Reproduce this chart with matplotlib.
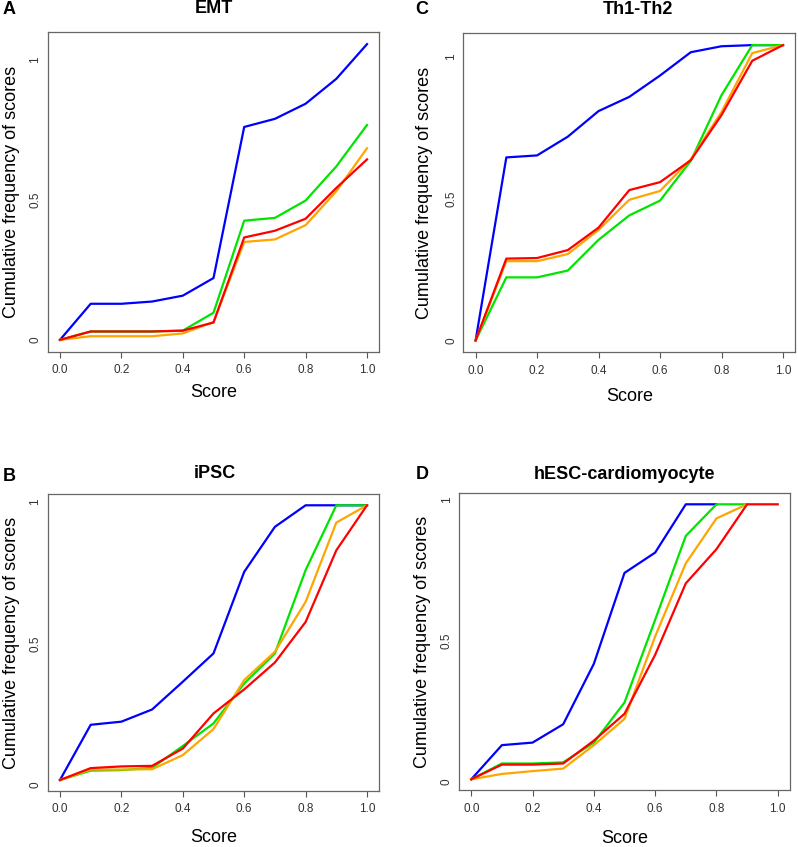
import numpy as np
import matplotlib
matplotlib.use("Agg")
import matplotlib.pyplot as plt

plt.rcParams['font.family'] = ['Liberation Sans', 'DejaVu Sans']

W, H = 798, 847

scores = [0.0, 0.1, 0.2, 0.3, 0.4, 0.5, 0.6, 0.7, 0.8, 0.9, 1.0]
yticks = [0, 0.5, 1]
ytick_labels = ["0", "0.5", "1"]
xticks = [0.0, 0.2, 0.4, 0.6, 0.8, 1.0]
xtick_labels = ["0.0", "0.2", "0.4", "0.6", "0.8", "1.0"]
colors = ["#0000FF", "#00E400", "#FFA500", "#FF0000"]

# A: EMT
emt_blue = [0.0, 0.129, 0.129, 0.137, 0.158, 0.221, 0.761, 0.790, 0.844, 0.933, 1.057]
emt_green = [0.0, 0.030, 0.030, 0.030, 0.033, 0.097, 0.426, 0.436, 0.498, 0.620, 0.768]
emt_orange = [0.0, 0.013, 0.013, 0.013, 0.023, 0.064, 0.350, 0.359, 0.410, 0.531, 0.685]
emt_red = [0.0, 0.030, 0.030, 0.030, 0.033, 0.062, 0.366, 0.390, 0.433, 0.543, 0.645]

# C: Th1-Th2
th_blue = [0.0, 0.644, 0.651, 0.717, 0.807, 0.857, 0.932, 1.014, 1.035, 1.039, 1.039]
th_green = [0.0, 0.222, 0.222, 0.246, 0.354, 0.440, 0.492, 0.632, 0.863, 1.039, 1.039]
th_orange = [0.0, 0.279, 0.279, 0.304, 0.389, 0.495, 0.526, 0.637, 0.804, 1.011, 1.039]
th_red = [0.0, 0.288, 0.290, 0.318, 0.397, 0.529, 0.557, 0.634, 0.793, 0.984, 1.039]

# B: iPSC
ipsc_blue = [0.018, 0.213, 0.224, 0.267, 0.365, 0.465, 0.753, 0.912, 0.988, 0.988, 0.988]
ipsc_green = [0.018, 0.051, 0.053, 0.061, 0.138, 0.218, 0.359, 0.465, 0.759, 0.988, 0.988]
ipsc_orange = [0.018, 0.055, 0.055, 0.056, 0.106, 0.198, 0.371, 0.471, 0.647, 0.927, 0.988]
ipsc_red = [0.018, 0.060, 0.066, 0.068, 0.129, 0.253, 0.338, 0.433, 0.576, 0.829, 0.988]

# D: hESC-cardiomyocyte (series end at different scores)
hesc_blue = [0.008, 0.129, 0.138, 0.203, 0.417, 0.739, 0.811, 0.982, 0.982]
hesc_green = [0.008, 0.064, 0.064, 0.068, 0.138, 0.280, 0.573, 0.870, 0.982, 0.982]
hesc_orange = [0.008, 0.027, 0.037, 0.046, 0.129, 0.222, 0.514, 0.773, 0.932, 0.982]
hesc_red = [0.008, 0.060, 0.060, 0.064, 0.145, 0.240, 0.449, 0.702, 0.823, 0.982, 0.982]

panels = [
    # letter, title, series, axes box px (x0, y0, x1, y1), letter xy, title xy, ylabel x, xlabel y
    ("A", "EMT", [emt_blue, emt_green, emt_orange, emt_red],
     (47.7, 32.3, 379.3, 351.7), (2.5, 9), (214, 8.5), -0.1086, -0.129),
    ("C", "Th1-Th2", [th_blue, th_green, th_orange, th_red],
     (463.3, 33.3, 795.3, 352.3), (415, 9.5), (638, 10), -0.1154, -0.137),
    ("B", "iPSC", [ipsc_blue, ipsc_green, ipsc_orange, ipsc_red],
     (47.7, 494.3, 379.3, 791.0), (2.5, 476), (215, 473), -0.1086, -0.158),
    ("D", "hESC-cardiomyocyte", [hesc_blue, hesc_green, hesc_orange, hesc_red],
     (459.0, 493.3, 790.0, 790.3), (415.5, 474), (624.5, 474), -0.1088, -0.161),
]

fig = plt.figure(figsize=(W / 100, H / 100), dpi=100)
fig.patch.set_facecolor("white")

for letter, title, series, box, lxy, txy, ylab_x, xlab_y in panels:
    x0, y0, x1, y1 = box
    ax = fig.add_axes([x0 / W, 1 - y1 / H, (x1 - x0) / W, (y1 - y0) / H])

    for vals, c in zip(series, colors):
        ax.plot(scores[:len(vals)], vals, color=c, lw=1.6, solid_joinstyle="round")

    # R style 4% padding
    lo = min(min(s) for s in series)
    hi = max(max(s) for s in series)
    pad = 0.04 * (hi - lo)
    ax.set_ylim(lo - pad, hi + pad)
    ax.set_xlim(-0.04, 1.04)

    ax.set_xticks(xticks)
    ax.set_xticklabels(xtick_labels, fontsize=8.5, color="#333333")
    ax.set_yticks(yticks)
    ax.set_yticklabels(ytick_labels, fontsize=8.5, color="#333333", rotation=90, va="center")
    ax.tick_params(axis="x", length=4.3, width=0.8, color="#555555", pad=4.5)
    ax.tick_params(axis="y", length=0, pad=4.5)

    for sp in ax.spines.values():
        sp.set_color("#666666")
        sp.set_linewidth(0.9)

    ax.set_ylabel("Cumulative frequency of scores", fontsize=13, va="center")
    ax.yaxis.set_label_coords(ylab_x, 0.5)
    ax.set_xlabel("Score", fontsize=13, va="center")
    ax.xaxis.set_label_coords(0.5, xlab_y)

    fig.text(lxy[0] / W, 1 - lxy[1] / H, letter, fontsize=13, fontweight="bold",
             ha="left", va="center")
    fig.text(txy[0] / W, 1 - txy[1] / H, title, fontsize=13, fontweight="bold",
             ha="center", va="center")

fig.savefig("out.png", dpi=100, facecolor="white")
